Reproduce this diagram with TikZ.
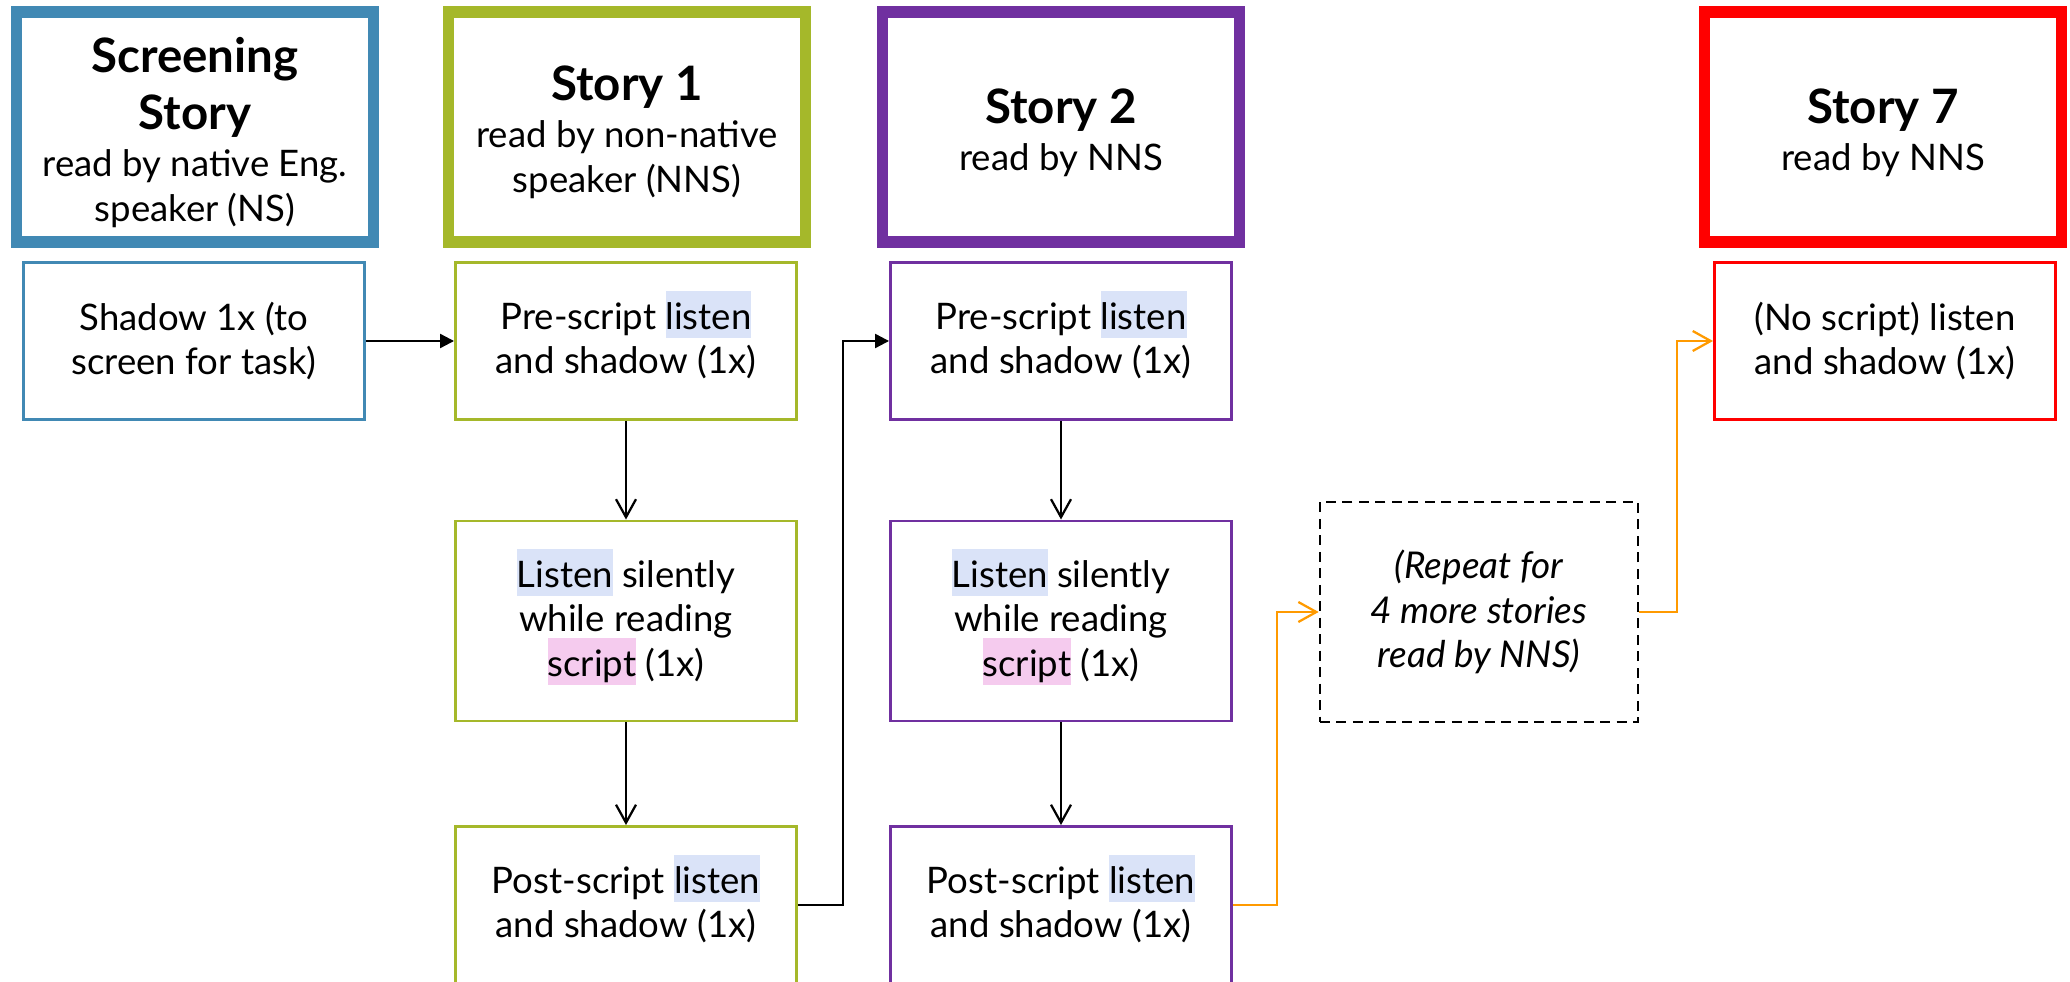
\documentclass[tikz,border=0pt]{standalone}
\usepackage{fontspec}
\setmainfont{Lato}
\usetikzlibrary{arrows.meta}

\definecolor{scrblue}{HTML}{4189B4}
\definecolor{storygreen}{HTML}{A5B82A}
\definecolor{storypurple}{HTML}{7030A0}
\definecolor{storyred}{HTML}{FF0000}
\definecolor{flow}{HTML}{FF9A00}
\definecolor{hlblue}{HTML}{DAE3F8}
\definecolor{hlpink}{HTML}{F5CBEE}

\newcommand{\hlb}[1]{{\setlength{\fboxsep}{0pt}\raisebox{0pt}[0.7em][0.15em]{\colorbox{hlblue}{\rule[-0.23em]{0pt}{1.28em}#1}}}}
\newcommand{\hlp}[1]{{\setlength{\fboxsep}{0pt}\raisebox{0pt}[0.7em][0.15em]{\colorbox{hlpink}{\rule[-0.23em]{0pt}{1.28em}#1}}}}
\newcommand{\ttl}{\fontsize{27}{25.3}\selectfont\bfseries}
\newcommand{\topstrut}[1]{\rule{0pt}{#1}}
\newcommand{\botstrut}{\rule[-8pt]{0pt}{0pt}}

\tikzset{
  header/.style={draw=#1, line width=0.228cm, minimum width=7.14cm,
    minimum height=4.6cm, inner sep=0pt, align=center},
  task/.style={draw=#1, line width=0.05cm, minimum width=6.83cm,
    minimum height=3.15cm, inner sep=0pt, align=center},
  tall/.style={minimum height=4.01cm},
  repeatbox/.style={draw, dash pattern=on 0.2cm off 0.13cm, line width=0.045cm,
    minimum width=6.37cm, minimum height=4.41cm, inner sep=0pt, align=center,
    font=\fontsize{21}{25.3}\selectfont\itshape},
  blk/.style={line width=0.045cm, -{Triangle[length=0.28cm, width=0.28cm]}},
  opn/.style={line width=0.045cm, -{Straight Barb[length=0.36cm, width=0.4cm]}},
  orng/.style={opn, draw=flow}
}

\begin{document}
\begin{tikzpicture}[x=0.02cm, y=-0.02cm, font=\fontsize{20.8}{25.3}\selectfont]
  \useasboundingbox (0,0) rectangle (2070,982);

  % headers
  \node[header=scrblue] (scr) at (195,127)
    {{\ttl\topstrut{30.6pt}Screening}\\[7.3pt]{\ttl Story}\\[1.4pt]read by native Eng.\\speaker (NS)\botstrut};
  \node[header=storygreen] (st1) at (627,127)
    {{\ttl\topstrut{30.2pt}Story 1}\\[1.4pt]read by non-native\\speaker (NNS)\botstrut};
  \node[header=storypurple] (st2) at (1061,127)
    {{\ttl\topstrut{30.8pt}Story 2}\\[1.4pt]read by NNS\botstrut};
  \node[header=storyred] (st7) at (1883,127)
    {{\ttl\topstrut{30.8pt}Story 7}\\[1.4pt]read by NNS\botstrut};

  % tasks
  \node[task=scrblue] (shadow) at (194,341) {Shadow 1x (to\\screen for task)};
  \node[task=storygreen] (pre1) at (626,341) {Pre-script \hlb{listen}\\and shadow (1x)};
  \node[task=storygreen, tall] (lis1) at (626,621)
    {\hlb{Listen} silently\\while reading\\\hlp{script} (1x)};
  \node[task=storygreen] (post1) at (626,905) {Post-script \hlb{listen}\\and shadow (1x)};
  \node[task=storypurple] (pre2) at (1061,341) {Pre-script \hlb{listen}\\and shadow (1x)};
  \node[task=storypurple, tall] (lis2) at (1061,621)
    {\hlb{Listen} silently\\while reading\\\hlp{script} (1x)};
  \node[task=storypurple] (post2) at (1061,905) {Post-script \hlb{listen}\\and shadow (1x)};
  \node[repeatbox] (rep) at (1479,612) {(Repeat for\\4 more stories\\read by NNS)};
  \node[task=storyred] (pre7) at (1885,341) {(No script) listen\\and shadow (1x)};

  % connectors
  \draw[blk] (shadow) -- (pre1);
  \draw[opn] (pre1) -- (lis1);
  \draw[opn] (lis1) -- (post1);
  \draw[blk] (post1.east) -- ++(45,0) |- (pre2.west);
  \draw[opn] (pre2) -- (lis2);
  \draw[opn] (lis2) -- (post2);
  \draw[orng] (post2.east) -- ++(44,0) |- (rep.west);
  \draw[orng] (rep.east) -- ++(38,0) |- (pre7.west);
\end{tikzpicture}
\end{document}
